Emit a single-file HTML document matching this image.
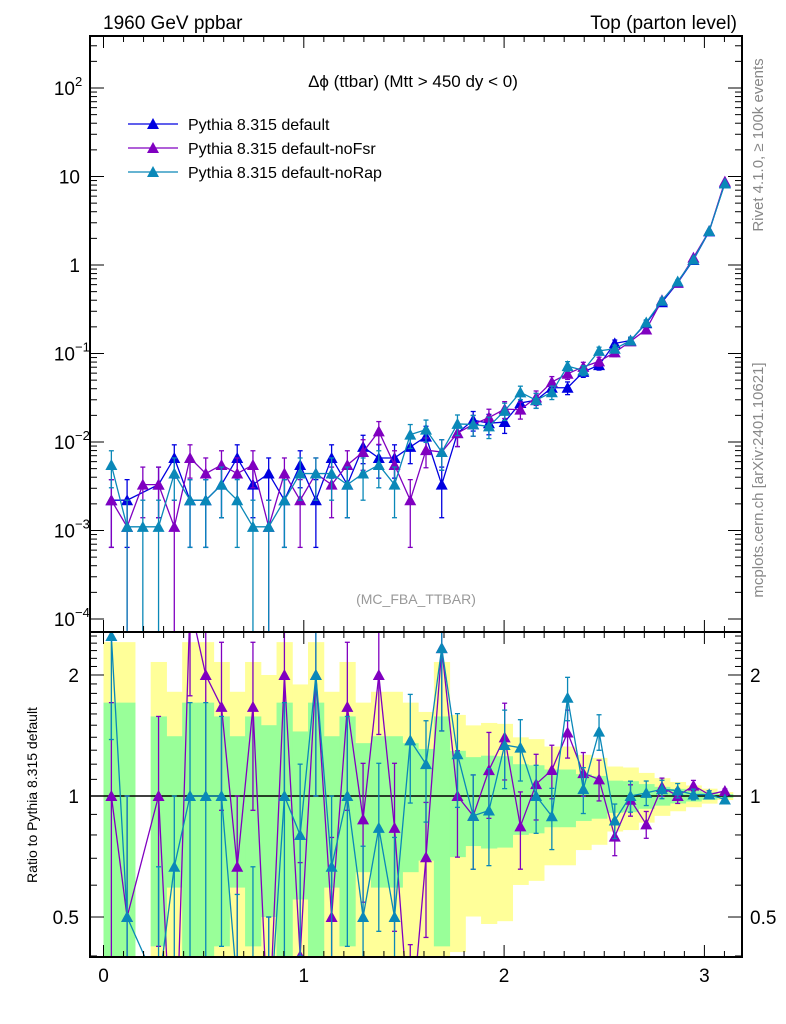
<!DOCTYPE html>
<html><head><meta charset="utf-8"><style>
html,body{margin:0;padding:0;background:#fff;width:786px;height:1024px;overflow:hidden;}
svg{display:block;font-family:"Liberation Sans",sans-serif;}
</style></head><body>
<svg id="c" width="786" height="1024" viewBox="0 0 786 1024" xmlns="http://www.w3.org/2000/svg">
<defs>
<clipPath id="clipMain"><rect x="90" y="36" width="652" height="596"/></clipPath>
<clipPath id="clipRat"><rect x="90" y="632" width="652" height="325"/></clipPath>
</defs>
<g id="bands" clip-path="url(#clipRat)"></g>
<g id="marks"></g>
<g id="axes"></g>
<text x="103" y="29" font-size="19">1960 GeV ppbar</text>
<text x="737" y="29" font-size="19" text-anchor="end">Top (parton level)</text>
<text x="413" y="87" font-size="17" text-anchor="middle">Δϕ (ttbar) (Mtt &gt; 450 dy &lt; 0)</text>
<text x="416" y="604" font-size="14" fill="#999" text-anchor="middle">(MC_FBA_TTBAR)</text>
<text transform="translate(763,145) rotate(-90)" font-size="15" fill="#888" text-anchor="middle">Rivet 4.1.0, ≥ 100k events</text>
<text transform="translate(763,480) rotate(-90)" font-size="15" fill="#888" text-anchor="middle">mcplots.cern.ch [arXiv:2401.10621]</text>
<text transform="translate(37,795) rotate(-90)" font-size="14" text-anchor="middle">Ratio to Pythia 8.315 default</text>
<g id="legend"></g>
</svg>
<script>
const U = 1.1e-3;
const nBins = 40;
const binWidth = Math.PI / 40;
const seriesNames = ["Pythia 8.315 default", "Pythia 8.315 default-noFsr", "Pythia 8.315 default-noRap"];
const seriesColors = ["#0000e0", "#8000c0", "#0a88b8"];
const blueVals = [2*U,2*U,0,3*U,6*U,2*U,2*U,3*U,6*U,3*U,4*U,2*U,5*U,2*U,6*U,3*U,8*U,6*U,6*U,8*U,
  0.0115,0.0033,0.0126,0.0177,0.0163,0.0168,0.0276,0.0297,0.041,0.041,0.062,0.074,0.13,0.14,0.22,0.38,0.63,1.14,2.4,8.5];
const purpleVals = [2*U,1*U,3*U,3*U,1*U,6*U,4*U,5*U,4*U,5*U,1*U,4*U,2*U,4*U,3*U,5*U,7*U,12*U,5*U,2*U,
  0.0081,0.0077,0.0126,0.0158,0.0189,0.0235,0.0232,0.0318,0.0476,0.059,0.0707,0.0814,0.103,0.137,0.187,0.40,0.63,1.21,2.42,8.75];
const cyanVals = [5*U,1*U,1*U,1*U,4*U,2*U,2*U,3*U,2*U,1*U,1*U,2*U,4*U,4*U,4*U,3*U,4*U,5*U,3*U,11*U,
  0.0138,0.0077,0.016,0.0158,0.015,0.0225,0.0364,0.0297,0.0365,0.072,0.0645,0.107,0.113,0.14,0.224,0.395,0.65,1.15,2.42,8.33];
const mainTicks = [{v:100,l:"10",e:"2"},{v:10,l:"10",e:""},{v:1,l:"1",e:""},{v:0.1,l:"10",e:"−1"},{v:0.01,l:"10",e:"−2"},{v:0.001,l:"10",e:"−3"},{v:0.0001,l:"10",e:"−4"}];
const ratioTicks = [2,1,0.5];
const xTicks = [0,1,2,3];

const NS="http://www.w3.org/2000/svg";
const X0=90,X1=742,YT=36,YM=632,YB=957;
function xS(x){return 103.5+200.3*x;}
function yMain(v){return 265-88.5*Math.log10(v);}
function yRat(r){return 796-402*Math.log10(r);}
function mk(tag,attrs,parent){const e=document.createElementNS(NS,tag);for(const k in attrs)e.setAttribute(k,attrs[k]);parent.appendChild(e);return e;}
const svg=document.getElementById('c');
const bands=document.getElementById('bands');
const marks=document.getElementById('marks');
const axes=document.getElementById('axes');
function relErr(v){return v>0?Math.sqrt(U/v):0;}

for(let i=0;i<nBins;i++){
  const v=blueVals[i]; if(!(v>0))continue;
  const re=relErr(v);
  const xa=xS(i*binWidth), xb=xS((i+1)*binWidth);
  const yl=1-2*re, yh=1+2*re;
  const y1=yRat(yh), y2= yl>0?yRat(yl):YB+10;
  const r1=mk('rect',{x:xa,y:y1,width:xb-xa+0.5,height:y2-y1,fill:'#ffff99'},bands);
  
  
}
for(let i=0;i<nBins;i++){
  const v=blueVals[i]; if(!(v>0))continue;
  const re=relErr(v);
  const xa=xS(i*binWidth), xb=xS((i+1)*binWidth);
  const gl=1-re, gh=1+re;
  const g1=yRat(gh), g2= gl>0?yRat(gl):YB+10;
  const r2=mk('rect',{x:xa,y:g1,width:xb-xa+0.5,height:g2-g1,fill:'#99ff99'},bands);
  
  
}
const one=mk('line',{x1:X0,x2:X1,y1:yRat(1),y2:yRat(1),stroke:'#000','stroke-width':1.5},svg);


svg.insertBefore(one,marks);

function tri(g,x,y,col){
  return mk('polygon',{points:`${x},${y-6} ${x-6},${y+5} ${x+6},${y+5}`,fill:col},g);
}
const allVals=[blueVals,purpleVals,cyanVals];
function drawSeries(k){
  const vals=allVals[k], col=seriesColors[k];
  const gm=mk('g',{'clip-path':'url(#clipMain)'},marks);
  
  
  let pts=[];
  for(let i=0;i<nBins;i++){
    const v=vals[i]; if(!(v>0))continue;
    const x=xS((i+0.5)*binWidth), y=yMain(v);
    pts.push(x+','+y);
    const re=relErr(v);
    const yh=yMain(v*(1+re)), yl= v*(1-re)>1e-6?yMain(v*(1-re)):YM+20;
    mk('line',{x1:x,x2:x,y1:yh,y2:yl,stroke:col,'stroke-width':1.3},gm);
    mk('line',{x1:x-2.5,x2:x+2.5,y1:yh,y2:yh,stroke:col,'stroke-width':1.3},gm);
    mk('line',{x1:x-2.5,x2:x+2.5,y1:yl,y2:yl,stroke:col,'stroke-width':1.3},gm);
  }
  mk('polyline',{points:pts.join(' '),fill:'none',stroke:col,'stroke-width':1.3},gm);
  for(let i=0;i<nBins;i++){
    const v=vals[i]; if(!(v>0))continue;
    const p=tri(gm,xS((i+0.5)*binWidth),yMain(v),col);
    
    
  }
  if(k===0)return;
  const gr=mk('g',{'clip-path':'url(#clipRat)'},marks);
  
  
  pts=[];
  const rp=[];
  for(let i=0;i<nBins;i++){
    const v=vals[i], b=blueVals[i]; if(!(v>0&&b>0))continue;
    const r=v/b, x=xS((i+0.5)*binWidth), y=yRat(r);
    pts.push(x+','+y); rp.push([x,y]);
    const re=relErr(v);
    const yh=yRat(r*(1+re)), yl= r*(1-re)>1e-4?yRat(r*(1-re)):YB+20;
    mk('line',{x1:x,x2:x,y1:yh,y2:yl,stroke:col,'stroke-width':1.3},gr);
    mk('line',{x1:x-2.5,x2:x+2.5,y1:yh,y2:yh,stroke:col,'stroke-width':1.3},gr);
    mk('line',{x1:x-2.5,x2:x+2.5,y1:yl,y2:yl,stroke:col,'stroke-width':1.3},gr);
  }
  mk('polyline',{points:pts.join(' '),fill:'none',stroke:col,'stroke-width':1.3},gr);
  rp.forEach(p=>{const t=tri(gr,p[0],p[1],col);
    
    });
}
drawSeries(0);drawSeries(1);drawSeries(2);

const f1=mk('rect',{x:X0,y:YT,width:X1-X0,height:YM-YT,fill:'none',stroke:'#000','stroke-width':2},axes);


const f2=mk('rect',{x:X0,y:YM,width:X1-X0,height:YB-YM,fill:'none',stroke:'#000','stroke-width':2},axes);


for(let t=0;t<=31;t++){
  const x=xS(t/10); if(x>X1)break;
  const L=(t%10===0)?12:6;
  [YT,YM].forEach(y0=>mk('line',{x1:x,x2:x,y1:y0,y2:y0+L,stroke:'#000','stroke-width':1},axes));
  [YM,YB].forEach(y0=>mk('line',{x1:x,x2:x,y1:y0,y2:y0-L,stroke:'#000','stroke-width':1},axes));
}
xTicks.forEach(t=>{const e=mk('text',{x:xS(t),y:982,'font-size':19,'text-anchor':'middle'},axes);e.textContent=t;
  
  });
for(let d=-4;d<=2;d++){
  for(let m=1;m<=9;m++){
    const v=m*Math.pow(10,d), y=yMain(v); if(y<YT)break; if(y>YM)continue;
    const L=m===1?14:7;
    mk('line',{x1:X0,x2:X0+L,y1:y,y2:y,stroke:'#000','stroke-width':1},axes);
    mk('line',{x1:X1,x2:X1-L,y1:y,y2:y,stroke:'#000','stroke-width':1},axes);
  }
}
mainTicks.forEach(t=>{
  const y=yMain(t.v)+7;
  const e=mk('text',{x:t.e?75:80,y:y,'font-size':19,'text-anchor':'end'},axes);
  e.textContent=t.l;
  
  
  if(t.e){const s=mk('text',{x:75,y:y-9,'font-size':13},axes);s.textContent=t.e;
    
    }
});
for(let r=0.4;r<=2.6;r+=0.1){
  const y=yRat(r); if(y<YM||y>YB)continue;
  const major=Math.abs(r-0.5)<1e-6||Math.abs(r-1)<1e-6||Math.abs(r-2)<1e-6;
  const L=major?14:7;
  mk('line',{x1:X0,x2:X0+L,y1:y,y2:y,stroke:'#000','stroke-width':1},axes);
  mk('line',{x1:X1,x2:X1-L,y1:y,y2:y,stroke:'#000','stroke-width':1},axes);
}
ratioTicks.forEach(r=>{
  const y=yRat(r)+7;
  const a=mk('text',{x:79,y:y,'font-size':19,'text-anchor':'end'},axes);a.textContent=r;
  
  
  const b=mk('text',{x:750,y:y,'font-size':19},axes);b.textContent=r;
  
  
});
const lg=document.getElementById('legend');
seriesNames.forEach((n,k)=>{
  const y=124+24*k;
  const g=mk('g',{},lg);
  
  
  mk('line',{x1:128,x2:178,y1:y,y2:y,stroke:seriesColors[k],'stroke-width':1.3},g);
  tri(g,153,y,seriesColors[k]);
  const t=mk('text',{x:188,y:y+6,'font-size':16},g);t.textContent=n;
});
</script>
</body></html>
